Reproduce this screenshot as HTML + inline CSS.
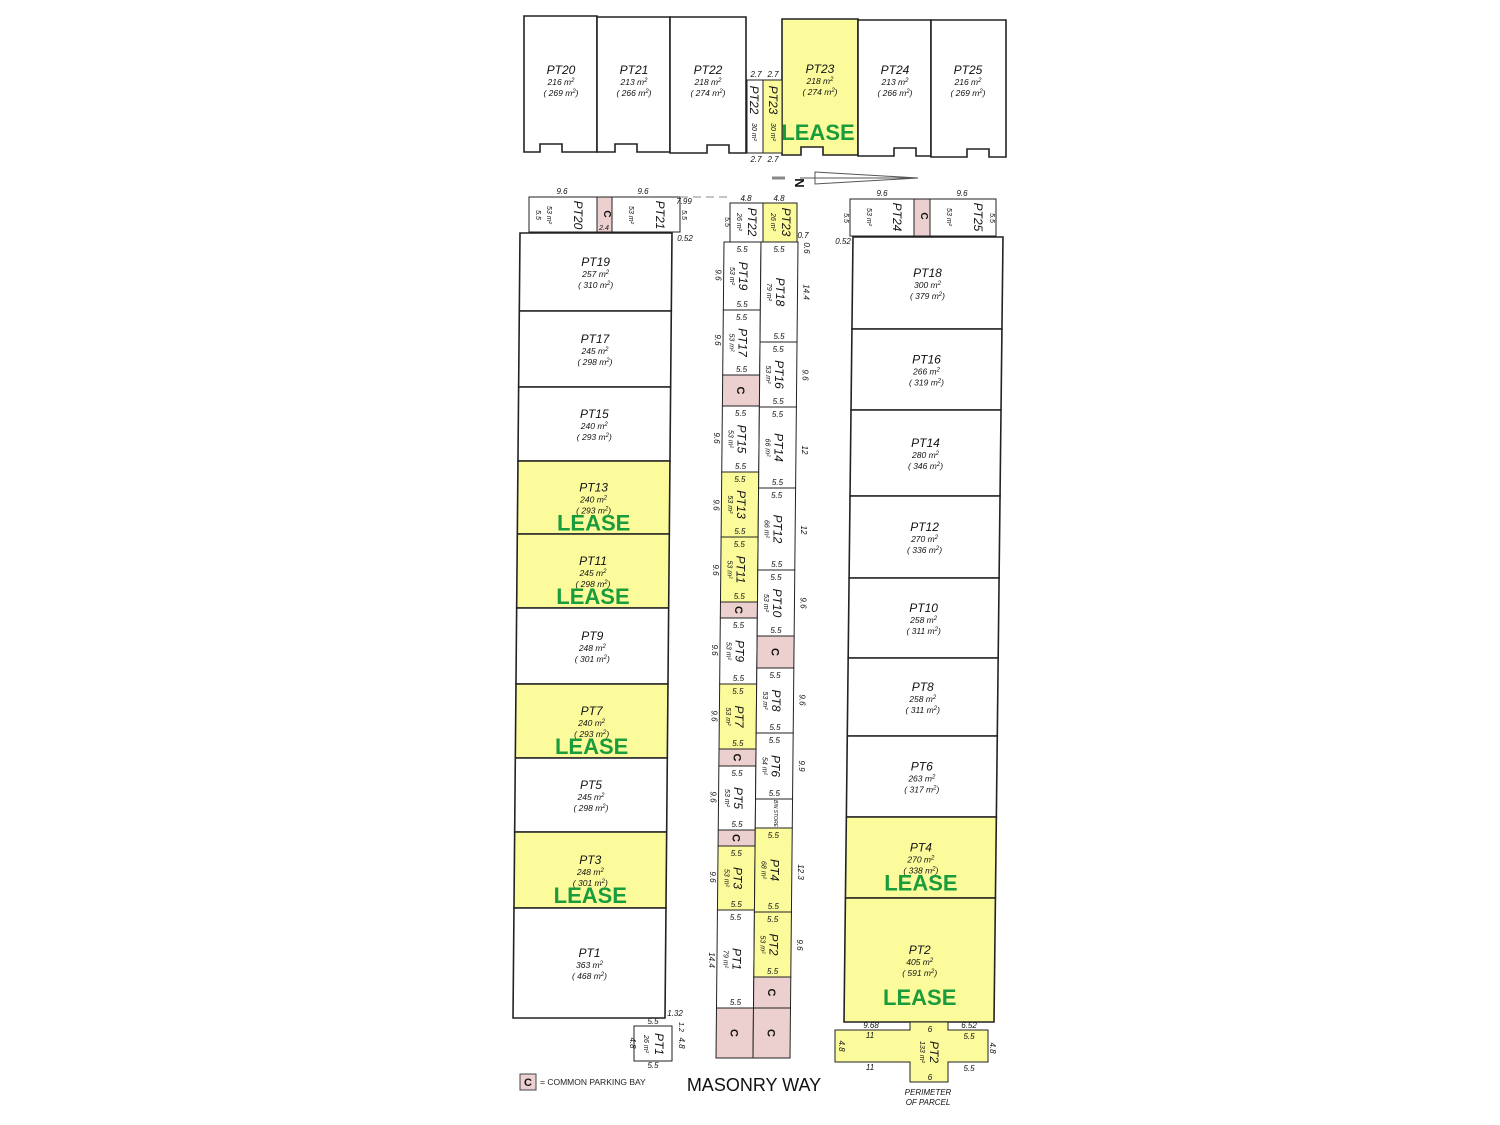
<!DOCTYPE html>
<html><head><meta charset="utf-8"><style>
html,body{margin:0;padding:0;background:#fff;}
svg{display:block;font-family:"Liberation Sans",sans-serif;}
</style></head><body>
<svg id="s" width="1500" height="1125" viewBox="0 0 1500 1125" xmlns="http://www.w3.org/2000/svg"></svg>
<script>
const s=document.getElementById('s');let h='';
const Y='#fbfb9c',P='#ecd0d0',G='#1a9c3c';
function poly(pts,fill,sw){h+=`<polygon points="${pts.map(p=>p.join(',')).join(' ')}" fill="${fill}" stroke="#222" stroke-width="${sw||1.6}"/>`;}
function t(x,y,str,size,opt){opt=opt||{};const rot=opt.rot?` transform="rotate(${opt.rot} ${x} ${y})"`:'';
h+=`<text x="${x}" y="${y}" font-size="${size}" text-anchor="middle" ${opt.it===false?'':'font-style="italic"'} fill="${opt.c||'#111'}" ${opt.b?'font-weight="bold"':''}${rot}>${str}</text>`;}
function lease(x,y){t(x,y,'LEASE',22,{it:false,b:1,c:G});}
function sup(x,y,a,b){h+=`<text x="${x}" y="${y}" font-size="8.5" text-anchor="middle" font-style="italic" fill="#111">${a} m<tspan font-size="6" dy="-3">2</tspan></text>`;if(b)h+=`<text x="${x}" y="${y+11}" font-size="8.5" text-anchor="middle" font-style="italic" fill="#111">( ${b} m<tspan font-size="6" dy="-3">2</tspan><tspan dy="3">)</tspan></text>`;}
function big(cx,ny,n,a,b){t(cx,ny,n,12);sup(cx,ny+11,a,b);}
// top row
function topLot(x1,x2,y1,y2,fill,nx){poly([[x1,y1],[x2,y1],[x2,y2],[nx+22,y2],[nx+22,y2-8],[nx,y2-8],[nx,y2],[x1,y2]],fill);}
topLot(524,597,16,152,'#fff',540);topLot(597,670,17,152,'#fff',615);topLot(670,746,17,153,'#fff',707);
topLot(782,858,19,155,Y,801);topLot(858,931,20,156,'#fff',894);topLot(931,1006,20,157,'#fff',967);
big(561,74,'PT20',216,269);big(634,74,'PT21',213,266);big(708,74,'PT22',218,274);
big(820,73,'PT23',218,274);lease(818,140);big(895,74,'PT24',213,266);big(968,74,'PT25',216,269);
poly([[747,80],[763,80],[763,153],[747,153]],'#fff',1);poly([[763,80],[782,80],[782,153],[763,153]],Y,1);
t(750,100,'PT22',12,{rot:90});t(769,100,'PT23',12,{rot:90});t(752,132,'30 m²',7,{rot:90});t(771,132,'30 m²',7,{rot:90});
t(756,77,'2.7',8);t(773,77,'2.7',8);t(756,162,'2.7',8);t(773,162,'2.7',8);
// north arrow
h+=`<line x1="772" y1="178" x2="785" y2="178" stroke="#888" stroke-width="3"/><polygon points="815,172 918,178 815,184" fill="none" stroke="#555"/><line x1="800" y1="178" x2="918" y2="178" stroke="#555"/>`;
t(795,183,'N',13,{it:false,b:1,rot:90});
// small top strips
poly([[529,197],[597,197],[597,232],[529,232]],'#fff',1);poly([[597,197],[612,197],[612,232],[597,232]],P,1);poly([[612,197],[680,197],[680,232],[612,232]],'#fff',1);
t(574,215,'PT20',12,{rot:90});t(656,215,'PT21',12,{rot:90});t(604,214,'C',10,{it:false,b:1,rot:90});t(547,215,'53 m²',7,{rot:90});t(629,215,'53 m²',7,{rot:90});
t(562,194,'9.6',8);t(643,194,'9.6',8);t(604,230,'2.4',7);t(684,204,'7.99',8);t(685,241,'0.52',8);t(536,215,'5.5',7,{rot:90});t(682,215,'5.5',7,{rot:90});
h+=`<line x1="680" y1="197" x2="730" y2="197" stroke="#888" stroke-dasharray="8,5"/>`;
poly([[730,203],[763,203],[763,242],[730,242]],'#fff',1);poly([[763,203],[797,203],[797,242],[763,242]],Y,1);
t(748,222,'PT22',12,{rot:90});t(782,222,'PT23',12,{rot:90});t(737,222,'26 m²',7,{rot:90});t(771,222,'26 m²',7,{rot:90});
t(746,201,'4.8',8);t(779,201,'4.8',8);t(803,238,'0.7',8);t(725,222,'5.5',7,{rot:90});
poly([[850,199],[914,199],[914,236],[850,236]],'#fff',1);poly([[914,199],[930,199],[930,236],[914,236]],P,1);poly([[930,199],[996,199],[996,236],[930,236]],'#fff',1);
t(893,217,'PT24',12,{rot:90});t(974,217,'PT25',12,{rot:90});t(921,216,'C',10,{it:false,b:1,rot:90});t(867,217,'53 m²',7,{rot:90});t(947,217,'53 m²',7,{rot:90});
t(882,196,'9.6',8);t(962,196,'9.6',8);t(843,244,'0.52',8);t(844,218,'5.5',7,{rot:90});t(990,218,'5.5',7,{rot:90});
// left column
const lx=y=>520-(y-233)*7/785;
const L=[[233,311,'PT19',257,310],[311,387,'PT17',245,298],[387,461,'PT15',240,293],[461,534,'PT13',240,293,1],[534,608,'PT11',245,298,1],[608,684,'PT9',248,301],[684,758,'PT7',240,293,1],[758,832,'PT5',245,298],[832,908,'PT3',248,301,1],[908,1018,'PT1',363,468]];
L.forEach(r=>{const[a,b,n,x1,x2,ls]=r;poly([[lx(a),a],[lx(a)+152,a],[lx(b)+152,b],[lx(b),b]],ls?Y:'#fff');const cy=(a+b)/2,cx=lx(cy)+76;big(cx,cy-6,n,x1,x2);if(ls)lease(cx,cy+33);});
t(675,1016,'1.32',8);
// right column
const rx=y=>853-(y-237)*9/785;
const R=[[237,329,'PT18',300,379],[329,410,'PT16',266,319],[410,496,'PT14',280,346],[496,578,'PT12',270,336],[578,658,'PT10',258,311],[658,736,'PT8',258,311],[736,817,'PT6',263,317],[817,898,'PT4',270,338,1],[898,1022,'PT2',405,591,1]];
R.forEach(r=>{const[a,b,n,x1,x2,ls]=r;poly([[rx(a),a],[rx(a)+150,a],[rx(b)+150,b],[rx(b),b]],ls?Y:'#fff');const cy=(a+b)/2,cx=rx(cy)+75;if(n=='PT2'){big(cx,954,n,x1,x2);lease(cx,1005);}else{big(cx,cy-6,n,x1,x2);if(ls)lease(cx,cy+33);}});
// middle column
const mx=y=>724-(y-242)*8/816;
function mid(a,b,off,kind,n,ar){const fill=kind=='y'?Y:kind=='c'?P:'#fff';poly([[mx(a)+off,a],[mx(a)+off+37,a],[mx(b)+off+37,b],[mx(b)+off,b]],fill,1);
const cy=(a+b)/2,cx=mx(cy)+off+18.5;
if(kind=='c'){t(cx-4,cy,'C',11,{it:false,b:1,rot:90});return;}
if(n=='BIN'){t(cx,cy,'BIN STORE',5,{rot:90});return;}
t(cx-3,cy,n,12,{rot:90});t(cx-12,cy,ar+' m²',7,{rot:90});
t(cx,a+10,'5.5',8);t(cx,b-3,'5.5',8);}
const ML=[[242,310,'','PT19',53],[310,375,'','PT17',53],[375,406,'c'],[406,472,'','PT15',53],[472,537,'y','PT13',53],[537,602,'y','PT11',53],[602,618,'c'],[618,684,'','PT9',53],[684,749,'y','PT7',53],[749,766,'c'],[766,830,'','PT5',53],[830,846,'c'],[846,910,'y','PT3',53],[910,1008,'','PT1',79],[1008,1058,'c']];
ML.forEach(r=>mid(r[0],r[1],0,r[2],r[3],r[4]));
const MR=[[242,342,'','PT18',79],[342,407,'','PT16',53],[407,488,'','PT14',66],[488,570,'','PT12',66],[570,636,'','PT10',53],[636,668,'c'],[668,733,'','PT8',53],[733,799,'','PT6',54],[799,828,'','BIN'],[828,912,'y','PT4',68],[912,977,'y','PT2',53],[977,1008,'c'],[1008,1058,'c']];
MR.forEach(r=>mid(r[0],r[1],37,r[2],r[3],r[4]));
[[275,'9.6'],[340,'9.6'],[438,'9.6'],[505,'9.6'],[570,'9.6'],[650,'9.6'],[716,'9.6'],[797,'9.6'],[877,'9.6'],[960,'14.4']].forEach(d=>t(mx(d[0])-8,d[0],d[1],8,{rot:90}));
[[292,'14.4'],[375,'9.6'],[450,'12'],[530,'12'],[603,'9.6'],[700,'9.6'],[766,'9.9'],[872,'12.3'],[945,'9.6'],[248,'0.6']].forEach(d=>t(mx(d[0])+80,d[0],d[1],8,{rot:90}));
// bottom PT1 small
poly([[634,1026],[672,1026],[672,1061],[634,1061]],'#fff',1);t(655,1044,'PT1',12,{rot:90});t(644,1044,'26 m²',7,{rot:90});
t(653,1024,'5.5',8);t(653,1068,'5.5',8);t(630,1043,'4.8',8,{rot:90});t(679,1043,'4.8',8,{rot:90});t(679,1027,'1.2',7,{rot:90});
// bottom PT2 cross
poly([[910,1022],[948,1022],[948,1030],[988,1030],[988,1062],[948,1062],[948,1082],[910,1082],[910,1062],[835,1062],[835,1030],[910,1030]],Y,1);
t(930,1052,'PT2',12,{rot:90});t(920,1052,'133 m²',7,{rot:90});
t(871,1028,'9.68',8);t(870,1038,'11',8);t(870,1070,'11',8);t(930,1032,'6',8);t(930,1080,'6',8);t(969,1028,'6.52',8);t(969,1039,'5.5',8);t(969,1071,'5.5',8);
t(839,1046,'4.8',8,{rot:90});t(990,1048,'4.8',8,{rot:90});
t(928,1095,'PERIMETER',8);t(928,1105,'OF PARCEL',8);
// legend
h+=`<rect x="520" y="1074" width="16" height="16" fill="${P}" stroke="#444"/>`;t(528,1086,'C',11,{it:false,b:1});
h+=`<text x="540" y="1085" font-size="8.5" fill="#222">= COMMON PARKING BAY</text>`;
h+=`<text x="754" y="1091" font-size="18" text-anchor="middle" fill="#111">MASONRY WAY</text>`;
s.innerHTML=h;
</script>
</body></html>
